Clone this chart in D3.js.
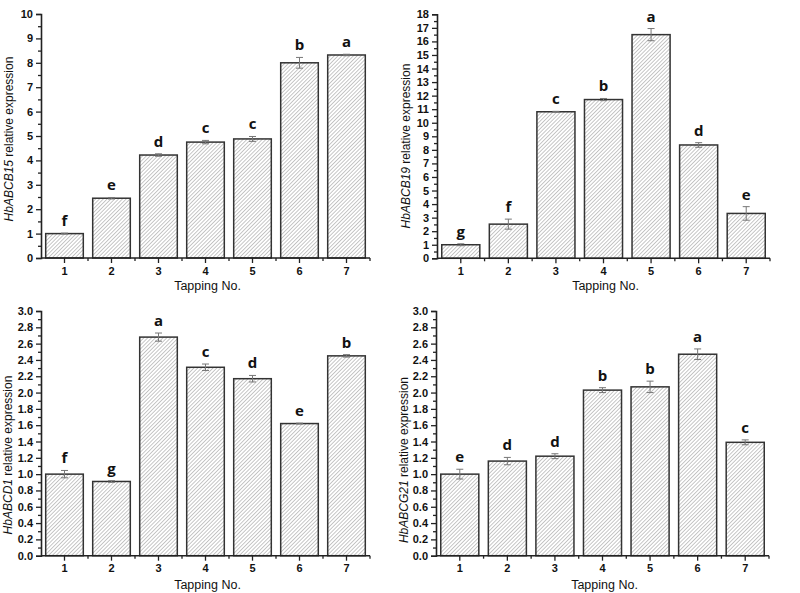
<!DOCTYPE html>
<html>
<head>
<meta charset="utf-8">
<script src="https://cdn.jsdelivr.net/npm/d3@7"></script>
<style>
  body { margin: 0; background: #fff; }
  svg { display: block; }
</style>
</head>
<body>
<svg id="chart" width="800" height="593"></svg>
<script>
// ---- Data ----
const categories = [1, 2, 3, 4, 5, 6, 7];

const abcb15Values = [1.00, 2.45, 4.22, 4.75, 4.88, 8.00, 8.32];
const abcb15Errors = [0.02, 0.03, 0.05, 0.07, 0.10, 0.22, 0.03];
const abcb15Letters = ["f", "e", "d", "c", "c", "b", "a"];

const abcb19Values = [1.00, 2.52, 10.81, 11.71, 16.50, 8.36, 3.31];
const abcb19Errors = [0.07, 0.37, 0.03, 0.08, 0.45, 0.17, 0.50];
const abcb19Letters = ["g", "f", "c", "b", "a", "d", "e"];

const abcd1Values = [1.00, 0.91, 2.68, 2.31, 2.17, 1.62, 2.45];
const abcd1Errors = [0.045, 0.01, 0.05, 0.04, 0.04, 0.005, 0.015];
const abcd1Letters = ["f", "g", "a", "c", "d", "e", "b"];

const abcg21Values = [1.00, 1.16, 1.22, 2.03, 2.07, 2.47, 1.39];
const abcg21Errors = [0.06, 0.045, 0.03, 0.03, 0.07, 0.065, 0.03];
const abcg21Letters = ["e", "d", "d", "b", "b", "a", "c"];

const yTicksB15 = d3.range(0, 11, 1);
const yTicksB19 = d3.range(0, 19, 1);
const yTicksSmall = d3.range(0, 31, 2).map(v => v / 10);

const xTitle = "Tapping No.";

// ---- Drawing ----
const svg = d3.select("#chart");
const defs = svg.append("defs");
const hs = 2.7;
const pat = defs.append("pattern")
  .attr("id", "hatch")
  .attr("patternUnits", "userSpaceOnUse")
  .attr("width", hs).attr("height", hs)
  .attr("patternTransform", "rotate(45)");
pat.append("rect").attr("width", hs).attr("height", hs).attr("fill", "#fff");
pat.append("line").attr("x1", 0).attr("y1", 0).attr("x2", 0).attr("y2", hs)
  .attr("stroke", "#999").attr("stroke-width", 1.1);

const panels = [
  { x0: 41, x1: 370, yTop: 14, yBot: 258, max: 10, ticks: yTicksB15, minorStep: 0.5, fmt: d3.format("d"),
    vals: abcb15Values, errs: abcb15Errors, letters: abcb15Letters,
    gene: "HbABCB15", labX: 13, labY: 139, titleY: 290 },
  { x0: 437, x1: 770, yTop: 14.3, yBot: 258.3, max: 18, ticks: yTicksB19, minorStep: 0.5, fmt: d3.format("d"),
    vals: abcb19Values, errs: abcb19Errors, letters: abcb19Letters,
    gene: "HbABCB19", labX: 410, labY: 146, titleY: 290 },
  { x0: 41, x1: 370, yTop: 311, yBot: 555.7, max: 3, ticks: yTicksSmall, minorStep: 0.1, fmt: d3.format(".1f"),
    vals: abcd1Values, errs: abcd1Errors, letters: abcd1Letters,
    gene: "HbABCD1", labX: 12, labY: 455, titleY: 589 },
  { x0: 436, x1: 769, yTop: 311, yBot: 555.7, max: 3, ticks: yTicksSmall, minorStep: 0.1, fmt: d3.format(".1f"),
    vals: abcg21Values, errs: abcg21Errors, letters: abcg21Letters,
    gene: "HbABCG21", labX: 408, labY: 460, titleY: 589 }
];

const axisColor = "#222";
const sans = "'Liberation Sans', Arial, sans-serif";

panels.forEach(p => {
  const g = svg.append("g");
  const x = d3.scaleBand().domain(categories).range([p.x0, p.x1])
    .paddingInner(0.2).paddingOuter(0.1);
  const y = d3.scaleLinear().domain([0, p.max]).range([p.yBot, p.yTop]);

  const data = categories.map((c, i) => ({ c, v: p.vals[i], e: p.errs[i], l: p.letters[i] }));

  // bars
  g.selectAll("rect.bar").data(data).join("rect")
    .attr("class", "bar")
    .attr("x", d => x(d.c))
    .attr("y", d => y(d.v))
    .attr("width", x.bandwidth())
    .attr("height", d => y(0) - y(d.v))
    .attr("fill", "url(#hatch)")
    .attr("stroke", "#333")
    .attr("stroke-width", 1.5);

  // error bars
  const eb = g.selectAll("g.err").data(data).join("g").attr("class", "err")
    .attr("stroke", "#777").attr("stroke-width", 1);
  eb.append("line")
    .attr("x1", d => x(d.c) + x.bandwidth() / 2).attr("x2", d => x(d.c) + x.bandwidth() / 2)
    .attr("y1", d => y(d.v - d.e)).attr("y2", d => y(d.v + d.e));
  ["+", "-"].forEach(s => {
    eb.append("line")
      .attr("x1", d => x(d.c) + x.bandwidth() / 2 - 3.5).attr("x2", d => x(d.c) + x.bandwidth() / 2 + 3.5)
      .attr("y1", d => y(s === "+" ? d.v + d.e : d.v - d.e))
      .attr("y2", d => y(s === "+" ? d.v + d.e : d.v - d.e));
  });

  // significance letters
  g.selectAll("text.sig").data(data).join("text")
    .attr("class", "sig")
    .attr("x", d => x(d.c) + x.bandwidth() / 2)
    .attr("y", d => y(d.v + d.e) - 7)
    .attr("text-anchor", "middle")
    .attr("font-family", "'Open Sans', sans-serif")
    .attr("font-weight", "bold")
    .attr("font-size", 15)
    .attr("fill", "#111")
    .text(d => d.l);

  // y axis
  const yAxis = d3.axisLeft(y).tickValues(p.ticks).tickFormat(p.fmt).tickSize(5).tickPadding(3);
  const ya = g.append("g").attr("transform", `translate(${p.x0},0)`).call(yAxis);
  const minorY = d3.range(0, p.max + 1e-9, p.minorStep).filter(v => !p.ticks.some(t => Math.abs(t - v) < 1e-6));
  const yMinor = d3.axisLeft(y).tickValues(minorY).tickFormat("").tickSize(3);
  const ym = g.append("g").attr("transform", `translate(${p.x0},0)`).call(yMinor);
  ym.select(".domain").remove();

  // x axis
  const xAxisG = g.append("g").attr("transform", `translate(0,${p.yBot})`);
  xAxisG.append("line").attr("x1", p.x0).attr("x2", p.x1).attr("y1", 0).attr("y2", 0)
    .attr("stroke", axisColor).attr("stroke-width", 1.6);
  const xAxis = d3.axisBottom(x).tickSize(5).tickPadding(4).tickSizeOuter(0);
  const xa = g.append("g").attr("transform", `translate(0,${p.yBot})`).call(xAxis);
  xa.select(".domain").remove();
  // minor ticks at band boundaries
  const step = x.step();
  const bounds = d3.range(1, categories.length + 1).map(k => x(categories[0]) - x.paddingOuter() * step + k * step);
  xAxisG.selectAll("line.minor").data(bounds).join("line").attr("class", "minor")
    .attr("x1", d => d).attr("x2", d => d).attr("y1", 0).attr("y2", 3)
    .attr("stroke", axisColor).attr("stroke-width", 1.3);

  [ya, ym, xa].forEach(a => {
    a.selectAll("line").attr("stroke", axisColor).attr("stroke-width", 1.3);
    a.select(".domain").attr("stroke", axisColor).attr("stroke-width", 1.6);
    a.selectAll("text").attr("font-family", sans)
      .attr("font-weight", "bold").attr("font-size", 11).attr("fill", "#111");
  });

  // y axis title
  const yt = g.append("text")
    .attr("transform", `translate(${p.labX},${p.labY}) rotate(-90)`)
    .attr("text-anchor", "middle")
    .attr("font-family", sans)
    .attr("font-size", 12)
    .attr("fill", "#111");
  yt.append("tspan").attr("font-style", "italic").text(p.gene);
  yt.append("tspan").text(" relative expression");

  // x axis title
  g.append("text")
    .attr("x", (p.x0 + p.x1) / 2 + 2)
    .attr("y", p.titleY)
    .attr("text-anchor", "middle")
    .attr("font-family", sans)
    .attr("font-size", 12.5)
    .attr("fill", "#111")
    .text(xTitle);
});
</script>
</body>
</html>
